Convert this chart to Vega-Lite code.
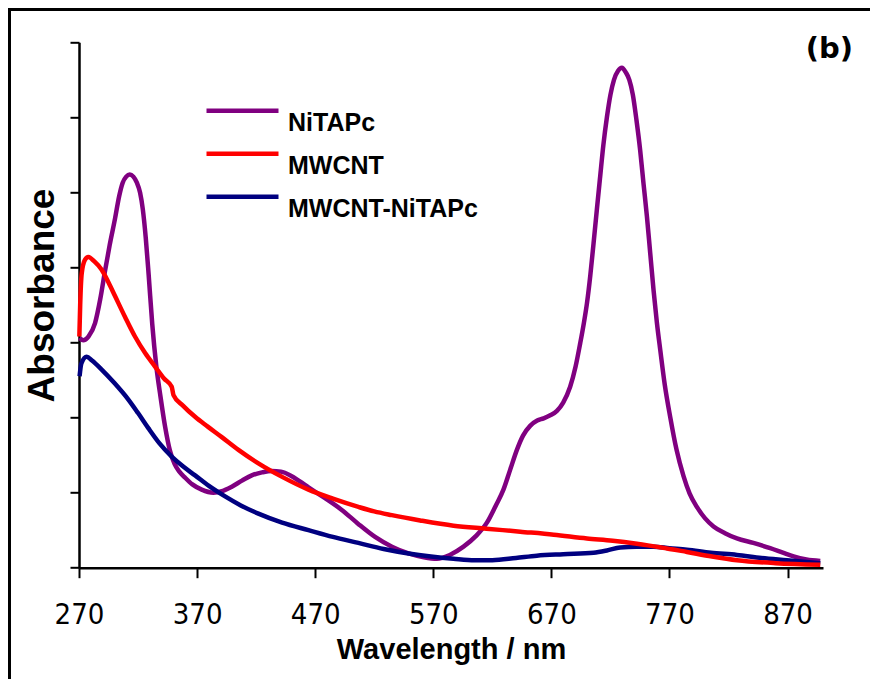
{
  "$schema": "https://vega.github.io/schema/vega-lite/v6.json",
  "autosize": {"type": "none"},
  "width": 744,
  "height": 525.4,
  "padding": {"left": 79, "top": 42.3, "right": 47, "bottom": 111.3},
  "background": "white",
  "config": {
    "view": {"stroke": null},
    "axis": {"grid": false, "domainColor": "black", "tickColor": "black", "labelColor": "black", "titleColor": "black"}
  },
  "title": {
    "text": "(b)", "orient": "top", "anchor": "end", "frame": "group",
    "font": "DejaVu Sans", "fontWeight": "bold", "fontSize": 29, "color": "black",
    "baseline": "alphabetic", "offset": 0, "dx": 30, "dy": 78
  },
  "data": {"values": [
    {"s":"NiTAPc","w":270.5,"a":3.06},{"s":"NiTAPc","w":273.6,"a":3.03},{"s":"NiTAPc","w":278,"a":3.08},
    {"s":"NiTAPc","w":283.6,"a":3.26},{"s":"NiTAPc","w":288,"a":3.58},{"s":"NiTAPc","w":292,"a":3.95},
    {"s":"NiTAPc","w":296,"a":4.3},{"s":"NiTAPc","w":300.5,"a":4.65},{"s":"NiTAPc","w":304,"a":4.95},
    {"s":"NiTAPc","w":307,"a":5.13},{"s":"NiTAPc","w":310,"a":5.21},{"s":"NiTAPc","w":313,"a":5.24},
    {"s":"NiTAPc","w":316,"a":5.21},{"s":"NiTAPc","w":319,"a":5.13},{"s":"NiTAPc","w":321.7,"a":5.0},
    {"s":"NiTAPc","w":324,"a":4.78},{"s":"NiTAPc","w":326.5,"a":4.4},{"s":"NiTAPc","w":329,"a":3.9},
    {"s":"NiTAPc","w":332,"a":3.25},{"s":"NiTAPc","w":335.5,"a":2.68},{"s":"NiTAPc","w":339,"a":2.28},
    {"s":"NiTAPc","w":342.9,"a":1.88},{"s":"NiTAPc","w":347,"a":1.56},{"s":"NiTAPc","w":351,"a":1.38},
    {"s":"NiTAPc","w":355,"a":1.28},{"s":"NiTAPc","w":359.8,"a":1.2},{"s":"NiTAPc","w":366,"a":1.11},
    {"s":"NiTAPc","w":373.9,"a":1.04},{"s":"NiTAPc","w":383.8,"a":1.0},
    {"s":"NiTAPc","w":391,"a":1.02},{"s":"NiTAPc","w":399.4,"a":1.08},{"s":"NiTAPc","w":408,"a":1.16},
    {"s":"NiTAPc","w":416.3,"a":1.23},{"s":"NiTAPc","w":425,"a":1.27},{"s":"NiTAPc","w":433.2,"a":1.29},
    {"s":"NiTAPc","w":441,"a":1.28},{"s":"NiTAPc","w":449,"a":1.23},{"s":"NiTAPc","w":457,"a":1.15},
    {"s":"NiTAPc","w":464.3,"a":1.07},{"s":"NiTAPc","w":478,"a":0.93},
    {"s":"NiTAPc","w":492.5,"a":0.77},{"s":"NiTAPc","w":506,"a":0.59},{"s":"NiTAPc","w":520.7,"a":0.41},
    {"s":"NiTAPc","w":535,"a":0.28},{"s":"NiTAPc","w":549,"a":0.19},
    {"s":"NiTAPc","w":562,"a":0.14},{"s":"NiTAPc","w":573,"a":0.12},{"s":"NiTAPc","w":584,"a":0.17},
    {"s":"NiTAPc","w":595.6,"a":0.28},{"s":"NiTAPc","w":606,"a":0.42},
    {"s":"NiTAPc","w":615.4,"a":0.6},{"s":"NiTAPc","w":623,"a":0.83},{"s":"NiTAPc","w":629.4,"a":1.04},
    {"s":"NiTAPc","w":635,"a":1.3},{"s":"NiTAPc","w":640.8,"a":1.57},{"s":"NiTAPc","w":646,"a":1.76},
    {"s":"NiTAPc","w":652,"a":1.89},{"s":"NiTAPc","w":658,"a":1.96},{"s":"NiTAPc","w":663.3,"a":1.99},
    {"s":"NiTAPc","w":669,"a":2.03},{"s":"NiTAPc","w":674.7,"a":2.09},{"s":"NiTAPc","w":680,"a":2.2},
    {"s":"NiTAPc","w":685.9,"a":2.41},{"s":"NiTAPc","w":690.5,"a":2.68},{"s":"NiTAPc","w":694.4,"a":2.99},
    {"s":"NiTAPc","w":697.5,"a":3.26},{"s":"NiTAPc","w":700.1,"a":3.52},{"s":"NiTAPc","w":703,"a":3.9},
    {"s":"NiTAPc","w":705.7,"a":4.32},{"s":"NiTAPc","w":708.5,"a":4.77},{"s":"NiTAPc","w":711.3,"a":5.21},
    {"s":"NiTAPc","w":714,"a":5.63},{"s":"NiTAPc","w":717,"a":6.0},{"s":"NiTAPc","w":720,"a":6.3},
    {"s":"NiTAPc","w":723,"a":6.5},{"s":"NiTAPc","w":726.5,"a":6.62},{"s":"NiTAPc","w":729.7,"a":6.66},
    {"s":"NiTAPc","w":733,"a":6.6},{"s":"NiTAPc","w":736,"a":6.5},{"s":"NiTAPc","w":739,"a":6.3},
    {"s":"NiTAPc","w":742,"a":5.97},{"s":"NiTAPc","w":745.2,"a":5.56},{"s":"NiTAPc","w":748,"a":5.12},
    {"s":"NiTAPc","w":750.9,"a":4.68},{"s":"NiTAPc","w":753.7,"a":4.19},{"s":"NiTAPc","w":756.5,"a":3.7},
    {"s":"NiTAPc","w":759.3,"a":3.27},{"s":"NiTAPc","w":762.2,"a":2.9},{"s":"NiTAPc","w":766,"a":2.44},
    {"s":"NiTAPc","w":770.6,"a":2.01},{"s":"NiTAPc","w":776,"a":1.57},{"s":"NiTAPc","w":781.9,"a":1.22},
    {"s":"NiTAPc","w":787,"a":0.99},{"s":"NiTAPc","w":793.2,"a":0.81},{"s":"NiTAPc","w":800,"a":0.66},
    {"s":"NiTAPc","w":807.3,"a":0.55},{"s":"NiTAPc","w":817,"a":0.46},{"s":"NiTAPc","w":827.1,"a":0.39},
    {"s":"NiTAPc","w":841,"a":0.33},{"s":"NiTAPc","w":855.3,"a":0.26},{"s":"NiTAPc","w":866,"a":0.2},
    {"s":"NiTAPc","w":875.1,"a":0.15},{"s":"NiTAPc","w":886,"a":0.11},{"s":"NiTAPc","w":897.7,"a":0.09},
    {"s":"MWCNT-NiTAPc","w":270.5,"a":2.55},{"s":"MWCNT-NiTAPc","w":272,"a":2.72},{"s":"MWCNT-NiTAPc","w":276.5,"a":2.81},
    {"s":"MWCNT-NiTAPc","w":281,"a":2.76},{"s":"MWCNT-NiTAPc","w":289.2,"a":2.64},{"s":"MWCNT-NiTAPc","w":300,"a":2.46},
    {"s":"MWCNT-NiTAPc","w":311.8,"a":2.24},{"s":"MWCNT-NiTAPc","w":320,"a":2.06},
    {"s":"MWCNT-NiTAPc","w":328.7,"a":1.86},{"s":"MWCNT-NiTAPc","w":338,"a":1.66},{"s":"MWCNT-NiTAPc","w":348.5,"a":1.48},
    {"s":"MWCNT-NiTAPc","w":358,"a":1.35},{"s":"MWCNT-NiTAPc","w":368.3,"a":1.23},{"s":"MWCNT-NiTAPc","w":380,"a":1.09},
    {"s":"MWCNT-NiTAPc","w":393.7,"a":0.95},{"s":"MWCNT-NiTAPc","w":407,"a":0.83},{"s":"MWCNT-NiTAPc","w":421.9,"a":0.72},
    {"s":"MWCNT-NiTAPc","w":442,"a":0.6},{"s":"MWCNT-NiTAPc","w":464.3,"a":0.5},{"s":"MWCNT-NiTAPc","w":485,"a":0.41},
    {"s":"MWCNT-NiTAPc","w":506.6,"a":0.33},{"s":"MWCNT-NiTAPc","w":528,"a":0.25},{"s":"MWCNT-NiTAPc","w":549,"a":0.19},
    {"s":"MWCNT-NiTAPc","w":568,"a":0.15},{"s":"MWCNT-NiTAPc","w":587.1,"a":0.12},
    {"s":"MWCNT-NiTAPc","w":605,"a":0.1},{"s":"MWCNT-NiTAPc","w":620,"a":0.1},{"s":"MWCNT-NiTAPc","w":640,"a":0.13},
    {"s":"MWCNT-NiTAPc","w":657.7,"a":0.16},{"s":"MWCNT-NiTAPc","w":680,"a":0.18},{"s":"MWCNT-NiTAPc","w":705.7,"a":0.2},
    {"s":"MWCNT-NiTAPc","w":717,"a":0.23},{"s":"MWCNT-NiTAPc","w":728.3,"a":0.27},{"s":"MWCNT-NiTAPc","w":742,"a":0.28},
    {"s":"MWCNT-NiTAPc","w":756.5,"a":0.28},{"s":"MWCNT-NiTAPc","w":770,"a":0.26},{"s":"MWCNT-NiTAPc","w":784.8,"a":0.24},
    {"s":"MWCNT-NiTAPc","w":805,"a":0.2},{"s":"MWCNT-NiTAPc","w":827.1,"a":0.17},{"s":"MWCNT-NiTAPc","w":848,"a":0.13},
    {"s":"MWCNT-NiTAPc","w":869.5,"a":0.1},{"s":"MWCNT-NiTAPc","w":897.7,"a":0.06},
    {"s":"MWCNT","w":270.3,"a":3.08},{"s":"MWCNT","w":271,"a":3.5},{"s":"MWCNT","w":272.3,"a":3.92},
    {"s":"MWCNT","w":275,"a":4.1},{"s":"MWCNT","w":277.9,"a":4.14},{"s":"MWCNT","w":283,"a":4.08},
    {"s":"MWCNT","w":289.2,"a":3.97},{"s":"MWCNT","w":295,"a":3.8},{"s":"MWCNT","w":300.5,"a":3.62},
    {"s":"MWCNT","w":309,"a":3.34},{"s":"MWCNT","w":317.4,"a":3.08},{"s":"MWCNT","w":326,"a":2.86},
    {"s":"MWCNT","w":334.4,"a":2.68},{"s":"MWCNT","w":342,"a":2.52},{"s":"MWCNT","w":348.5,"a":2.41},
    {"s":"MWCNT","w":350,"a":2.3},{"s":"MWCNT","w":358,"a":2.16},
    {"s":"MWCNT","w":368.3,"a":2.01},{"s":"MWCNT","w":379,"a":1.88},{"s":"MWCNT","w":390.9,"a":1.74},
    {"s":"MWCNT","w":405,"a":1.57},{"s":"MWCNT","w":421.9,"a":1.39},{"s":"MWCNT","w":442,"a":1.21},
    {"s":"MWCNT","w":464.3,"a":1.04},{"s":"MWCNT","w":485,"a":0.92},{"s":"MWCNT","w":506.6,"a":0.81},
    {"s":"MWCNT","w":520,"a":0.75},{"s":"MWCNT","w":534.9,"a":0.7},{"s":"MWCNT","w":558.9,"a":0.63},
    {"s":"MWCNT","w":587.1,"a":0.56},{"s":"MWCNT","w":615,"a":0.52},{"s":"MWCNT","w":643.6,"a":0.48},
    {"s":"MWCNT","w":672,"a":0.44},{"s":"MWCNT","w":700.1,"a":0.39},{"s":"MWCNT","w":722,"a":0.36},
    {"s":"MWCNT","w":742.4,"a":0.32},{"s":"MWCNT","w":763,"a":0.27},{"s":"MWCNT","w":784.8,"a":0.21},
    {"s":"MWCNT","w":806,"a":0.15},{"s":"MWCNT","w":827.1,"a":0.1},{"s":"MWCNT","w":860,"a":0.06},
    {"s":"MWCNT","w":897.7,"a":0.04}
  ]},
  "layer": [
    {
      "mark": {"type": "rect", "fill": null, "stroke": "black", "strokeWidth": 2, "clip": false},
      "encoding": {
        "x": {"datum": 211.1, "type": "quantitative", "scale": {"domain": [270, 900], "nice": false}},
        "x2": {"datum": 1100},
        "y": {"datum": 7.437, "type": "quantitative", "scale": {"domain": [0, 7], "nice": false}},
        "y2": {"datum": -3}
      }
    },
    {
      "mark": {"type": "line", "strokeWidth": 4.5, "interpolate": "monotone"},
      "encoding": {
        "x": {
          "field": "w", "type": "quantitative",
          "scale": {"domain": [270, 900], "nice": false},
          "axis": {
            "values": [270, 370, 470, 570, 670, 770, 870],
            "labelFont": "Liberation Sans Narrow, DejaVu Sans Condensed, Liberation Sans",
            "labelFontSize": 29, "labelPadding": 23, "labelFlush": false, "labelOverlap": false,
            "tickSize": 10, "tickWidth": 2, "domainWidth": 2.5,
            "title": "Wavelength / nm", "titleFont": "Liberation Sans", "titleFontWeight": "bold",
            "titleFontSize": 29, "titleBaseline": "alphabetic", "titleY": 90.3
          }
        },
        "y": {
          "field": "a", "type": "quantitative",
          "scale": {"domain": [0, 7], "nice": false},
          "axis": {
            "values": [0, 1, 2, 3, 4, 5, 6, 7], "labels": false,
            "tickSize": 9, "tickWidth": 2, "domainWidth": 2.5,
            "title": "Absorbance", "titleFont": "Liberation Sans", "titleFontWeight": "bold",
            "titleFontSize": 37, "titleAngle": 270, "titleBaseline": "alphabetic", "titleAlign": "center",
            "titleX": -26, "titleY": 252.7
          }
        },
        "color": {
          "field": "s", "type": "nominal",
          "scale": {"domain": ["NiTAPc", "MWCNT", "MWCNT-NiTAPc"], "range": ["#800080", "#FF0000", "#000080"]},
          "legend": {
            "title": null, "orient": "none", "legendX": 149, "legendY": 54, "padding": 0,
            "symbolType": "M-3,0H3", "symbolSize": 576, "symbolStrokeWidth": 4.5,
            "labelFont": "Liberation Sans", "labelFontWeight": "bold", "labelFontSize": 25,
            "labelColor": "black", "labelBaseline": "top", "labelOffset": 31, "rowPadding": 3,
            "labelLimit": 400
          }
        }
      }
    }
  ]
}
